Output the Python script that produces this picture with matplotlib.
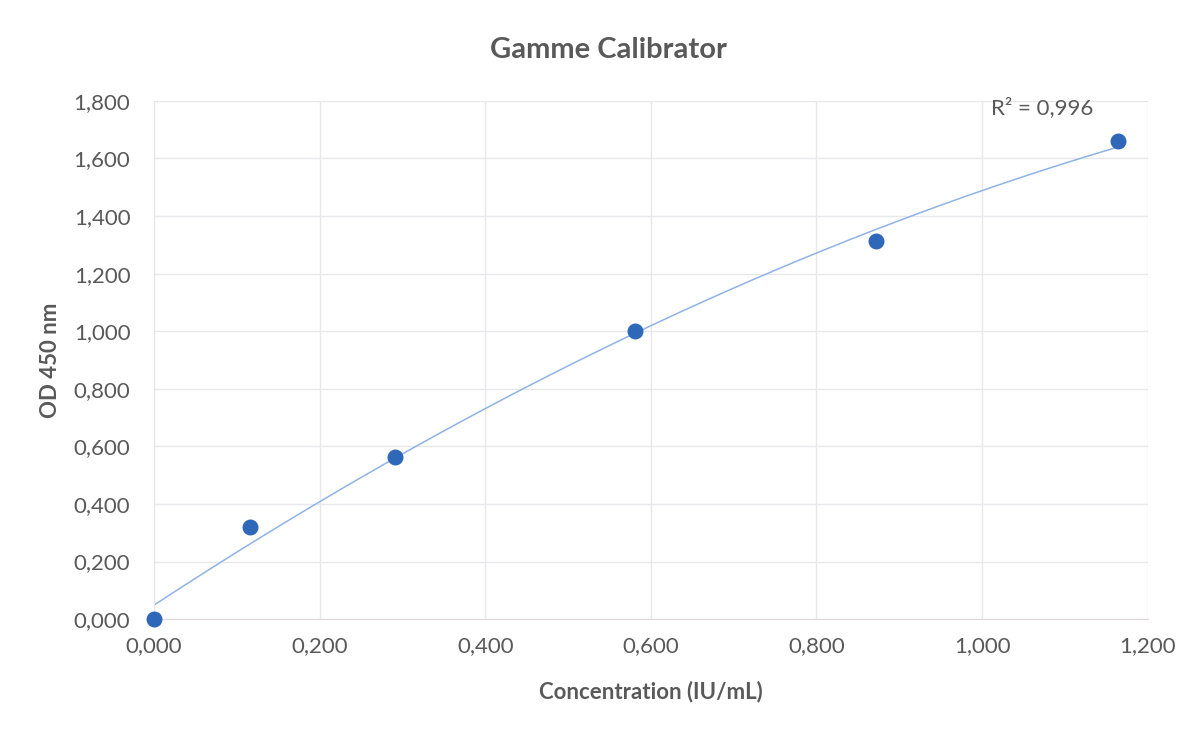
import numpy as np
import matplotlib.pyplot as plt
from matplotlib.ticker import FuncFormatter, MultipleLocator

# data
conc = [0.000, 0.116, 0.291, 0.581, 0.872, 1.164]
od450 = [0.000, 0.320, 0.563, 1.000, 1.313, 1.660]
r2_label = "R² = 0,996"

plt.rcParams['font.family'] = ['Lato', 'DejaVu Sans']
grey = '#595959'

# polynomial (order 2) trendline like in the spreadsheet
coef = np.polyfit(conc, od450, 2)
xfit = np.linspace(min(conc), max(conc), 200)
yfit = np.polyval(coef, xfit)

fig = plt.figure(figsize=(12.03, 7.31), dpi=100)
ax = fig.add_axes([0.128, 0.153, 0.826, 0.709])

ax.plot(xfit, yfit, color='#8fb3e6', lw=1.1, zorder=2)
ax.scatter(conc, od450, s=110, color='#2f68b9', zorder=3, clip_on=False)

ax.set_xlim(0, 1.2)
ax.set_ylim(0, 1.8)
ax.xaxis.set_major_locator(MultipleLocator(0.2))
ax.yaxis.set_major_locator(MultipleLocator(0.2))
fmt = FuncFormatter(lambda v, p: ("%.3f" % v).replace('.', ','))
ax.xaxis.set_major_formatter(fmt)
ax.yaxis.set_major_formatter(fmt)

ax.grid(True, color='#e8e8ec', lw=1)
ax.set_axisbelow(True)
for s in ['top', 'right']:
    ax.spines[s].set_visible(False)
ax.spines['left'].set_color('#e8e8ec')
ax.spines['bottom'].set_color('#e0d8dc')
ax.tick_params(length=0, labelsize=16, colors=grey)
ax.tick_params(axis='x', pad=12)
ax.tick_params(axis='y', pad=17)

ax.set_xlabel("Concentration (IU/mL)", fontsize=16, fontweight='bold', color=grey, labelpad=18)
ax.set_ylabel("OD 450 nm", fontsize=16, fontweight='bold', color=grey, labelpad=9)
fig.text(0.506, 0.932, "Gamme Calibrator", ha='center', va='center',
         fontsize=21, fontweight='bold', color=grey)

ax.text(1.073, 1.776, r2_label, ha='center', va='center', fontsize=16, color=grey)

fig.savefig("out.png", dpi=100)
